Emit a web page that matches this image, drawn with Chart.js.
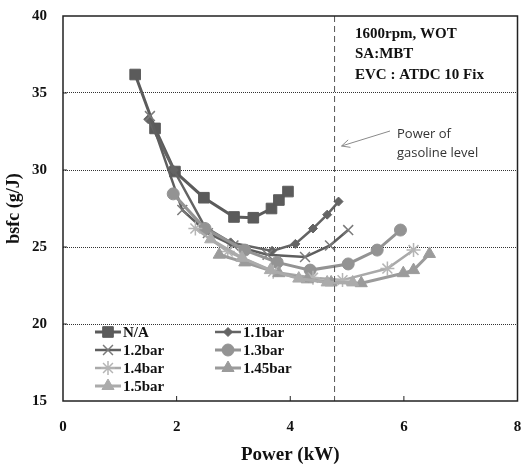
<!DOCTYPE html>
<html>
<head>
<meta charset="utf-8">
<script src="https://cdn.jsdelivr.net/npm/chart.js"></script>
<style>
  html, body { margin: 0; padding: 0; background: #fff; }
  #wrap { width: 526px; height: 467px; }
</style>
</head>
<body>
<div id="wrap"><canvas id="c" width="526" height="467"></canvas></div>
<script>
// values (power in kW, bsfc in g/J)
const naX = [1.27, 1.62, 1.97, 2.48, 3.01, 3.35, 3.67, 3.8, 3.96];
const naY = [36.2, 32.7, 29.9, 28.2, 26.95, 26.9, 27.5, 28.05, 28.6];

const bar11X = [1.5, 1.95, 2.5, 2.95, 3.68, 4.09, 4.4, 4.65, 4.85];
const bar11Y = [33.3, 30.0, 26.3, 25.3, 24.75, 25.2, 26.2, 27.1, 27.95];

const bar12X = [1.53, 2.1, 2.55, 3.0, 3.6, 4.26, 4.7, 5.02];
const bar12Y = [33.5, 27.4, 25.9, 25.1, 24.5, 24.35, 25.1, 26.1];

const bar13X = [1.94, 2.5, 3.2, 3.77, 4.35, 5.02, 5.53, 5.94];
const bar13Y = [28.45, 26.2, 24.8, 24.0, 23.5, 23.9, 24.8, 26.1];

const bar14X = [2.33, 2.9, 3.7, 4.4, 4.92, 5.71, 6.17];
const bar14Y = [26.2, 24.7, 23.4, 23.0, 22.85, 23.6, 24.8];

const bar145X = [2.75, 3.2, 3.8, 4.3, 4.72, 5.25, 5.99, 6.17, 6.45];
const bar145Y = [24.5, 24.0, 23.3, 22.9, 22.7, 22.65, 23.3, 23.5, 24.55];

const bar15X = [2.6, 3.15, 3.65, 4.15, 4.65, 5.1];
const bar15Y = [25.5, 24.3, 23.5, 22.95, 22.7, 22.7];

const seriesNames = ['N/A', '1.1bar', '1.2bar', '1.3bar', '1.4bar', '1.45bar', '1.5bar'];
const gasolinePower = 4.78;
const noteLines = ['1600rpm, WOT', 'SA:MBT', 'EVC : ATDC 10 Fix'];
const arrowLabel = ['Power of', 'gasoline level'];

const serif = "'Liberation Serif', 'Times New Roman', serif";

function pts(xs, ys) {
    return xs.map((x, i) => ({ x: x, y: ys[i] }));
}

function series(label, xs, ys, color, style, radius, lineWidth, markerColor, markerWidth) {
    return {
        label: label,
        data: pts(xs, ys),
        borderColor: color,
        backgroundColor: markerColor || color,
        pointBackgroundColor: markerColor || color,
        pointBorderColor: markerColor || color,
        pointBorderWidth: markerWidth || 1,
        pointStyle: style,
        pointRadius: radius,
        pointHoverRadius: radius,
        borderWidth: lineWidth,
        tension: 0,
        fill: false
    };
}

const datasets = [
    series(seriesNames[6], bar15X, bar15Y, '#ababab', 'triangle', 7, 3),
    series(seriesNames[5], bar145X, bar145Y, '#9b9b9b', 'triangle', 7, 3),
    series(seriesNames[4], bar14X, bar14Y, '#a9a9a9', 'star', 7, 2.5, '#b5b5b5', 1.5),
    series(seriesNames[3], bar13X, bar13Y, '#939393', 'circle', 6, 3),
    series(seriesNames[2], bar12X, bar12Y, '#5e5e5e', 'crossRot', 7, 2.5, '#7a7a7a', 1.5),
    series(seriesNames[1], bar11X, bar11Y, '#646464', 'rectRot', 4.5, 2.5),
    series(seriesNames[0], naX, naY, '#5b5b5b', 'rect', 7.5, 3)
];

function drawMarker(ctx, ds, x, y) {
    const opts = {
        pointStyle: ds.pointStyle,
        radius: ds.pointRadius,
        borderWidth: ds.pointBorderWidth,
        rotation: 0
    };
    ctx.save();
    ctx.fillStyle = ds.pointBackgroundColor;
    ctx.strokeStyle = ds.pointBorderColor;
    ctx.lineWidth = ds.pointBorderWidth;
    Chart.helpers.drawPoint(ctx, opts, x, y);
    ctx.restore();
}

const framePlugin = {
    id: 'frame',
    afterDatasetsDraw(chart) {
        const ctx = chart.ctx;
        const a = chart.chartArea;
        const xs = chart.scales.x;
        const ys = chart.scales.y;
        ctx.save();

        // dashed line at gasoline power level
        const gx = xs.getPixelForValue(gasolinePower);
        ctx.strokeStyle = '#555';
        ctx.lineWidth = 1;
        ctx.setLineDash([6, 4]);
        ctx.beginPath();
        ctx.moveTo(gx, a.top);
        ctx.lineTo(gx, a.bottom);
        ctx.stroke();
        ctx.setLineDash([]);

        // plot box
        ctx.strokeStyle = '#222';
        ctx.lineWidth = 1.5;
        ctx.strokeRect(a.left, a.top, a.right - a.left, a.bottom - a.top);

        // small inner tick marks
        ctx.lineWidth = 1;
        [2, 4, 6].forEach(v => {
            const px = xs.getPixelForValue(v);
            ctx.beginPath();
            ctx.moveTo(px, a.bottom);
            ctx.lineTo(px, a.bottom - 5);
            ctx.stroke();
        });
        [20, 25, 30, 35].forEach(v => {
            const py = ys.getPixelForValue(v);
            ctx.beginPath();
            ctx.moveTo(a.left, py);
            ctx.lineTo(a.left + 4, py);
            ctx.stroke();
        });

        // condition note
        ctx.fillStyle = '#111';
        ctx.font = 'bold 15px ' + serif;
        ctx.textAlign = 'left';
        ctx.textBaseline = 'middle';
        noteLines.forEach((t, i) => ctx.fillText(t, 355, 34 + i * 20.5));

        // arrow + label
        ctx.fillStyle = '#333';
        ctx.font = "13px 'Open Sans', 'Noto Sans', sans-serif";
        arrowLabel.forEach((t, i) => ctx.fillText(t, 397, 134 + i * 19));
        ctx.strokeStyle = '#8a8a8a';
        ctx.lineWidth = 1;
        const ax0 = 390, ay0 = 131, ax1 = gx + 7, ay1 = 146;
        ctx.beginPath();
        ctx.moveTo(ax0, ay0);
        ctx.lineTo(ax1, ay1);
        const ang = Math.atan2(ay1 - ay0, ax1 - ax0);
        ctx.moveTo(ax1 - 9 * Math.cos(ang - 0.45), ay1 - 9 * Math.sin(ang - 0.45));
        ctx.lineTo(ax1, ay1);
        ctx.lineTo(ax1 - 9 * Math.cos(ang + 0.45), ay1 - 9 * Math.sin(ang + 0.45));
        ctx.stroke();

        // legend, two columns inside the plot
        ctx.font = 'bold 15px ' + serif;
        ctx.fillStyle = '#111';
        seriesNames.forEach((name, i) => {
            const ds = datasets.find(d => d.label === name);
            const col = i % 2;
            const row = Math.floor(i / 2);
            const lx = col === 0 ? 95 : 215;
            const ly = 332 + row * 18;
            ctx.strokeStyle = ds.borderColor;
            ctx.lineWidth = ds.borderWidth;
            ctx.beginPath();
            ctx.moveTo(lx, ly);
            ctx.lineTo(lx + 26, ly);
            ctx.stroke();
            drawMarker(ctx, ds, lx + 13, ly);
            ctx.fillStyle = '#111';
            ctx.fillText(name, lx + 28, ly + 1);
        });

        ctx.restore();
    }
};

new Chart(document.getElementById('c'), {
    type: 'line',
    data: { datasets: datasets },
    options: {
        responsive: false,
        animation: false,
        layout: { padding: { left: 0, right: 8, top: 16, bottom: 0 } },
        plugins: {
            legend: { display: false },
            tooltip: { enabled: false }
        },
        scales: {
            x: {
                type: 'linear',
                min: 0,
                max: 8,
                ticks: {
                    stepSize: 2,
                    padding: 17,
                    color: '#111',
                    font: { family: serif, size: 15, weight: 'bold' }
                },
                grid: { display: false, drawTicks: false },
                border: { display: false },
                title: {
                    display: true,
                    text: 'Power (kW)',
                    color: '#111',
                    font: { family: serif, size: 19, weight: 'bold' },
                    padding: { top: 0, bottom: 1 }
                },
                afterFit: scale => {
                    scale.height = 66;
                    scale.paddingLeft = 0;
                    scale.paddingRight = 0;
                }
            },
            y: {
                min: 15,
                max: 40,
                ticks: {
                    stepSize: 5,
                    padding: 16,
                    color: '#111',
                    font: { family: serif, size: 15, weight: 'bold' }
                },
                grid: {
                    drawTicks: false,
                    color: c => (c.tick.value === 15 || c.tick.value === 40) ? 'rgba(0,0,0,0)' : '#333',
                    lineWidth: 1
                },
                border: { display: false, dash: [1, 1] },
                title: {
                    display: true,
                    text: 'bsfc (g/J)',
                    color: '#111',
                    font: { family: serif, size: 18, weight: 'bold' },
                    padding: { top: 4, bottom: 0 }
                },
                afterFit: scale => {
                    scale.width = 63;
                    scale.paddingTop = 0;
                    scale.paddingBottom = 0;
                }
            }
        }
    },
    plugins: [framePlugin]
});
</script>
</body>
</html>
